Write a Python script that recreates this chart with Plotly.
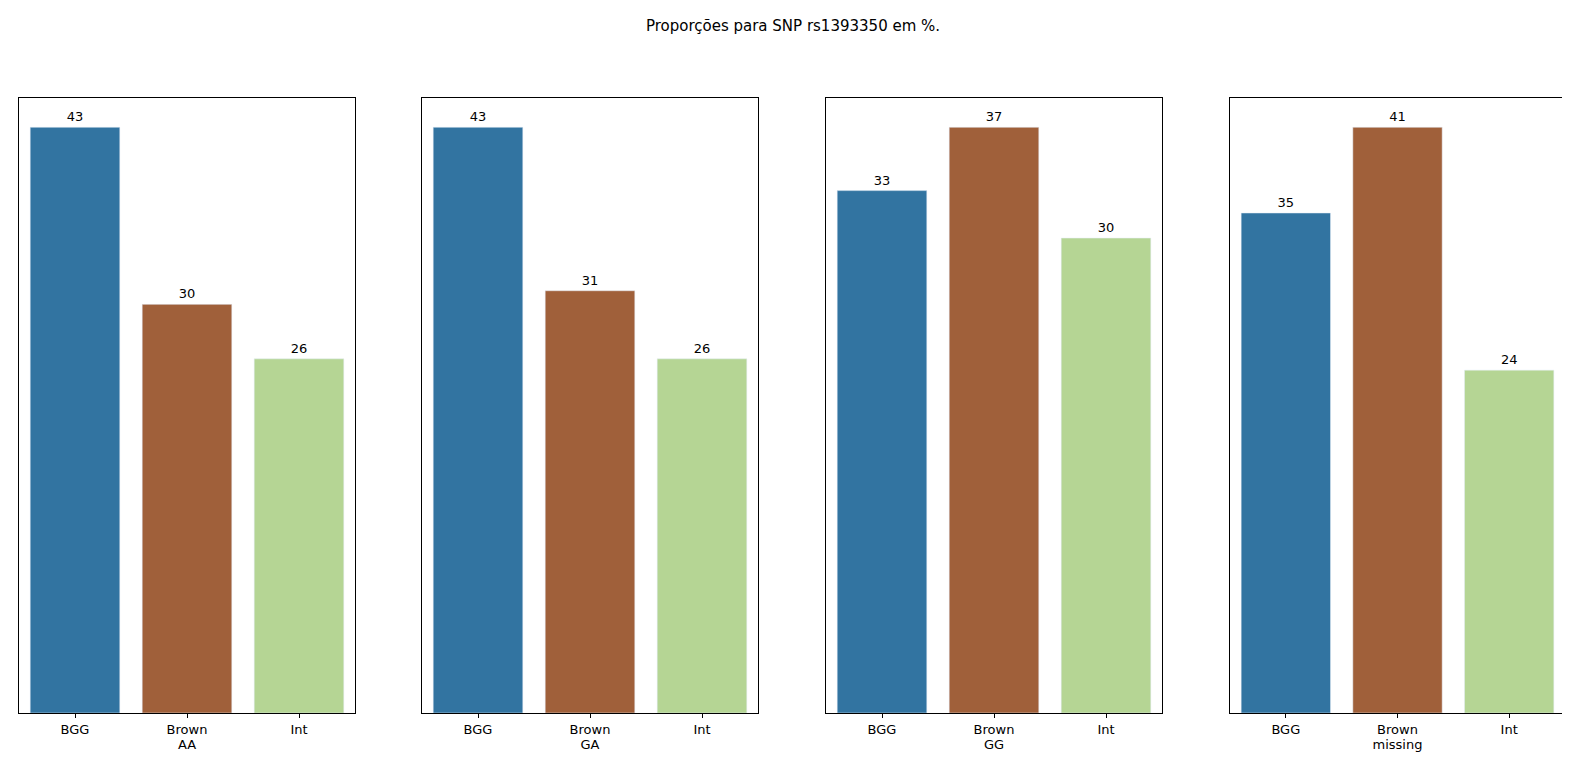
import plotly.graph_objects as go

categories = ["BGG", "Brown", "Int"]
groups = ["AA", "GA", "GG", "missing"]
values = {
    "AA": [43, 30, 26],
    "GA": [43, 31, 26],
    "GG": [33, 37, 30],
    "missing": [35, 41, 24],
}
colors = ["#3274a1", "#a0603a", "#b5d594"]
title = "Proporções para SNP rs1393350 em %."

W, H = 1570, 759
xpix = [(11, 347), (414, 750), (818, 1154), (1222, 1557)]
ydom = [1 - 705 / H, 1 - 90 / H]

fig = go.Figure()
for i, g in enumerate(groups):
    ax = "" if i == 0 else str(i + 1)
    vals = values[g]
    fig.add_trace(go.Bar(
        x=categories, y=vals, marker_color=colors, width=0.8,
        text=[str(v) for v in vals], textposition="outside",
        textfont=dict(size=13, color="black"), cliponaxis=False,
        xaxis="x" + ax, yaxis="y" + ax, showlegend=False,
    ))
    x0, x1 = xpix[i]
    fig.layout["xaxis" + ax] = dict(
        domain=[x0 / W, x1 / W], anchor="y" + ax, range=[-0.5, 2.5],
        showline=True, linecolor="black", mirror=True, ticks="outside",
        ticklen=4, tickcolor="black", showgrid=False,
        title=dict(text=g, font=dict(size=13, color="black"), standoff=4),
        tickfont=dict(size=13, color="black"),
    )
    fig.layout["yaxis" + ax] = dict(
        domain=ydom, anchor="x" + ax, range=[0, max(vals) * 1.05],
        showline=True, linecolor="black", mirror=True, showticklabels=False,
        ticks="", showgrid=False, zeroline=False,
    )

fig.update_layout(
    width=W, height=H, margin=dict(l=0, r=0, t=0, b=0),
    plot_bgcolor="white", paper_bgcolor="white",
    font=dict(family="DejaVu Sans", color="black"),
    title=dict(text=title, x=0.5, xanchor="center", y=1 - 18 / H, yanchor="middle",
               font=dict(size=15, color="black")),
)
fig.write_html("out.html")
